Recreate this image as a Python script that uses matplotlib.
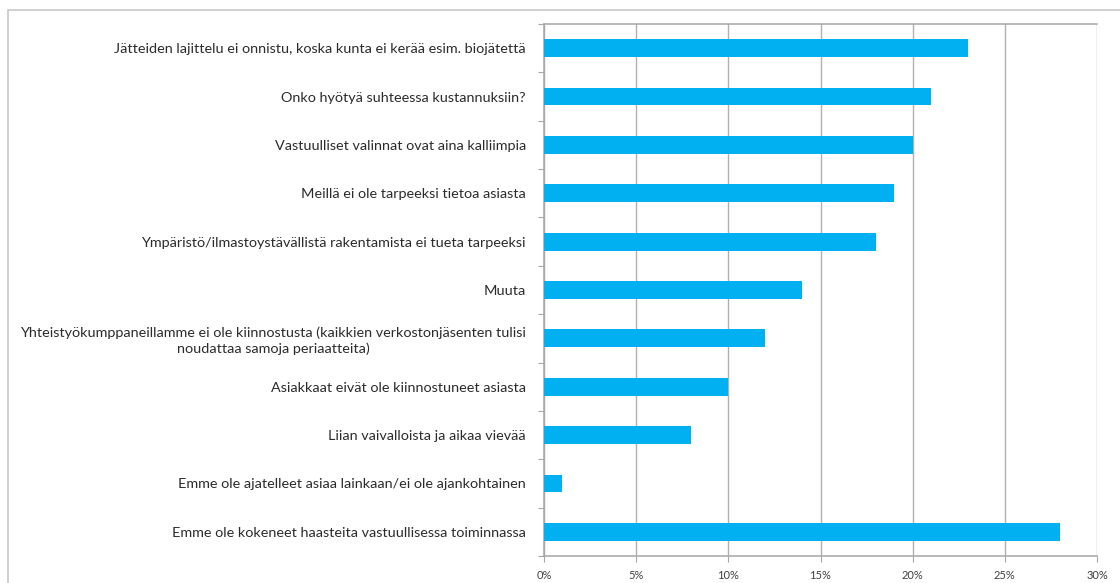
import matplotlib.pyplot as plt
from matplotlib.patches import Rectangle
from matplotlib.ticker import FuncFormatter, MultipleLocator

plt.rcParams['font.family'] = ['Lato', 'DejaVu Sans']

# answers, top to bottom
labels = [
    'Jätteiden lajittelu ei onnistu, koska kunta ei kerää esim. biojätettä',
    'Onko hyötyä suhteessa kustannuksiin?',
    'Vastuulliset valinnat ovat aina kalliimpia',
    'Meillä ei ole tarpeeksi tietoa asiasta',
    'Ympäristö/ilmastoystävällistä rakentamista ei tueta tarpeeksi',
    'Muuta',
    'Yhteistyökumppaneillamme ei ole kiinnostusta (kaikkien verkostonjäsenten tulisi\nnoudattaa samoja periaatteita)',
    'Asiakkaat eivät ole kiinnostuneet asiasta',
    'Liian vaivalloista ja aikaa vievää',
    'Emme ole ajatelleet asiaa lainkaan/ei ole ajankohtainen',
    'Emme ole kokeneet haasteita vastuullisessa toiminnassa',
]
shares = [23, 21, 20, 19, 18, 14, 12, 10, 8, 1, 28]

fig = plt.figure(figsize=(11.2, 5.83), dpi=100)
ax = fig.add_axes([544 / 1120, 1 - 556 / 583, 553 / 1120, 532 / 583])

# outer frame of the chart area
fig.patches.append(Rectangle((8 / 1120, -0.1), 1.2, 1 - 10 / 583 + 0.1,
                             transform=fig.transFigure, fill=False,
                             edgecolor='#c8c8c8', linewidth=1.2))

ypos = list(range(len(labels)))
ax.barh(ypos, shares, height=0.37, color='#00b0f0', zorder=3)

ax.set_xlim(0, 30)
ax.set_ylim(len(labels) - 0.5, -0.5)
ax.xaxis.set_major_locator(MultipleLocator(5))
ax.xaxis.set_major_formatter(FuncFormatter(lambda v, p: f'{v:.0f}%'))
ax.grid(axis='x', color='#b0b0b0', linewidth=1.0, zorder=0)

ax.set_yticks([y + 0.5 for y in range(-1, len(labels))], minor=False)
ax.set_yticklabels([])
ax.set_yticks(ypos, minor=True)
ax.set_yticklabels(labels, minor=True, fontsize=10.4, color='#2b2b2b',
                   multialignment='center', linespacing=1.25)
ax.tick_params(axis='y', which='major', length=4, color='#a6a6a6', direction='out')
ax.tick_params(axis='y', which='minor', length=0, pad=13)
ax.tick_params(axis='x', length=4, color='#a6a6a6', labelsize=8,
               labelcolor='#404040', pad=6)

for side in ['left', 'bottom', 'top']:
    ax.spines[side].set_color('#a6a6a6')
    ax.spines[side].set_linewidth(1.1)
ax.spines['right'].set_visible(False)

fig.savefig('out.png', dpi=100)
